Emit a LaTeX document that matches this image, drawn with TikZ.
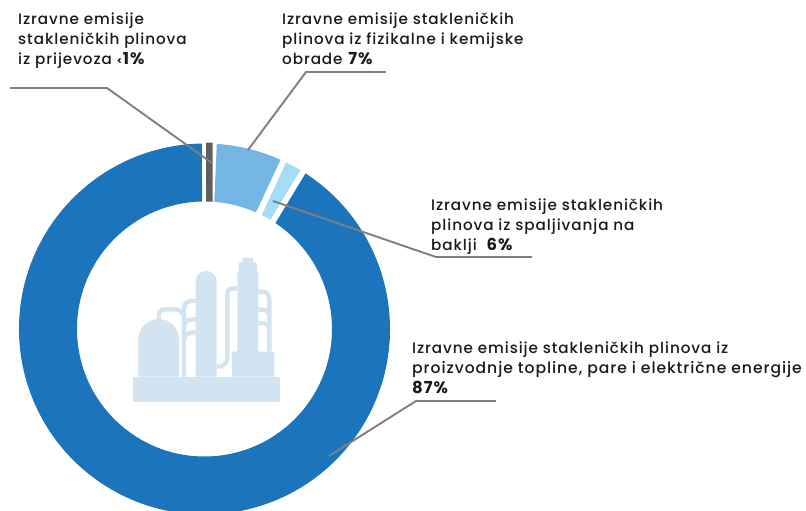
\documentclass[tikz,border=0pt]{standalone}
\usepackage{fontspec}
\setmainfont{Poppins Medium}[LetterSpace=6,BoldFont={Poppins Bold}]
\definecolor{mainblue}{HTML}{1C74BC}
\definecolor{lightblue}{HTML}{74B5E3}
\definecolor{paleblue}{HTML}{A3DDF8}
\definecolor{darkseg}{HTML}{5F5F5F}
\definecolor{iconblue}{HTML}{D2E3F2}
\definecolor{leader}{HTML}{7F7F7F}
\definecolor{ink}{HTML}{1A1A1A}
\tikzset{
  label/.style={anchor=north west,inner sep=0pt,align=left,text=ink,font=\fontsize{15.2}{19.8}\selectfont},
  leaderline/.style={draw=leader,line width=1.9pt},
  pipe/.style={draw=iconblue,line width=4.4pt,fill=none},
  solid icon/.style={fill=iconblue,draw=none}
}
\begin{document}
\begin{tikzpicture}[x=1pt,y=-1pt]
\useasboundingbox (0,0) rectangle (806,511);
\clip (0,0) rectangle (806,511);
% donut
\begin{scope}[shift={(204.5,329)}]
\fill[mainblue] (57:185.5pt) arc[start angle=57,end angle=-269.2,radius=185.5pt] -- (-268.9:127.5pt) arc[start angle=-268.9,end angle=56.2,radius=127.5pt] -- cycle;
\fill[lightblue] (86.2:185.5pt) arc[start angle=86.2,end angle=65.8,radius=185.5pt] -- (66.2:127.5pt) arc[start angle=66.2,end angle=85.6,radius=127.5pt] -- cycle;
\fill[paleblue] (63.9:185.5pt) arc[start angle=63.9,end angle=58.9,radius=185.5pt] -- (58.9:127.5pt) arc[start angle=58.9,end angle=63.3,radius=127.5pt] -- cycle;
\fill[darkseg] (89.5:186.5pt) arc[start angle=89.5,end angle=87.5,radius=186.5pt] -- (86.4:127.5pt) arc[start angle=86.4,end angle=89.3,radius=127.5pt] -- cycle;
\end{scope}
% icon
\begin{scope}[shift={(130,240)},x=0.3333pt,y=-0.3333pt]
\fill[solid icon] (10,410) rectangle (450,485);
\fill[solid icon] (25,410) -- (25,298) arc[start angle=180,end angle=0,x radius=61pt*0.3333,y radius=61pt*0.3333] -- (147,410) -- cycle;
\fill[solid icon] (197,410) -- (197,124) arc[start angle=180,end angle=0,x radius=31.5pt*0.3333,y radius=31.5pt*0.3333] -- (260,410) -- cycle;
\fill[solid icon] (306,410) -- (306,335) -- (322,335) -- (322,98) -- (327,92) -- (325,70) -- (337,66) -- (337,54) -- (369,54) -- (369,66) -- (381,70) -- (380,92) -- (385,98) -- (385,335) -- (433,335) -- (433,410) -- cycle;
\draw[pipe] (87,240) -- (87,225) .. controls (87,212) and (95,208) .. (108,208) -- (130,208) .. controls (150,208) and (155,215) .. (162,225);
\draw[pipe] (162,410) -- (162,205) .. controls (162,188) and (172,182) .. (197,182);
\draw[pipe] (162,260) .. controls (162,243) and (172,238) .. (197,238);
\draw[pipe] (162,300) .. controls (162,283) and (172,277) .. (197,277);
\draw[pipe] (322,145) -- (312,145) .. controls (297,145) and (292,152) .. (292,165) -- (292,350) .. controls (292,372) and (280,380) .. (260,380);
\draw[pipe] (385,155) -- (395,155) .. controls (412,155) and (418,165) .. (418,180) -- (418,335);
\draw[pipe] (385,209) -- (395,209) .. controls (410,209) and (418,215) .. (418,232);
\draw[pipe] (385,249) -- (395,249) .. controls (410,249) and (418,255) .. (418,272);
\end{scope}
% leaders
\coordinate (e1a) at (10,88); \coordinate (e1b) at (107,88); \coordinate (e1c) at (212,163);
\coordinate (e2a) at (386,72); \coordinate (e2b) at (306,72); \coordinate (e2c) at (248,150);
\coordinate (e3a) at (532,257); \coordinate (e3b) at (436,257); \coordinate (e3c) at (273,201);
\coordinate (e4a) at (496,401); \coordinate (e4b) at (416,401); \coordinate (e4c) at (329,456);
\draw[leaderline] (e1a) -- (e1b) -- (e1c);
\draw[leaderline] (e2a) -- (e2b) -- (e2c);
\draw[leaderline] (e3a) -- (e3b) -- (e3c);
\draw[leaderline] (e4a) -- (e4b) -- (e4c);
% labels
\node[label] (l1) at (18,13) {Izravne emisije\\stakleničkih plinova\\iz prijevoza {\fontsize{10}{10}\selectfont\bfseries<}\textbf{\fontsize{16.5}{19.8}\selectfont 1\%}};
\node[label] (l2) at (282,13) {Izravne emisije stakleničkih\\plinova iz fizikalne i kemijske\\obrade \textbf{\fontsize{16.5}{19.8}\selectfont 7\%}};
\node[label] (l3) at (431,199) {Izravne emisije stakleničkih\\plinova iz spaljivanja na\\baklji\ \ \textbf{\fontsize{16.5}{19.8}\selectfont 6\%}};
\node[label] (l4) at (412,342) {Izravne emisije stakleničkih plinova iz\\{\fontsize{15.6}{19.8}\selectfont proizvodnje topline, pare i električne energije}\\\textbf{\fontsize{16.5}{19.8}\selectfont 87\%}};
\end{tikzpicture}
\end{document}
